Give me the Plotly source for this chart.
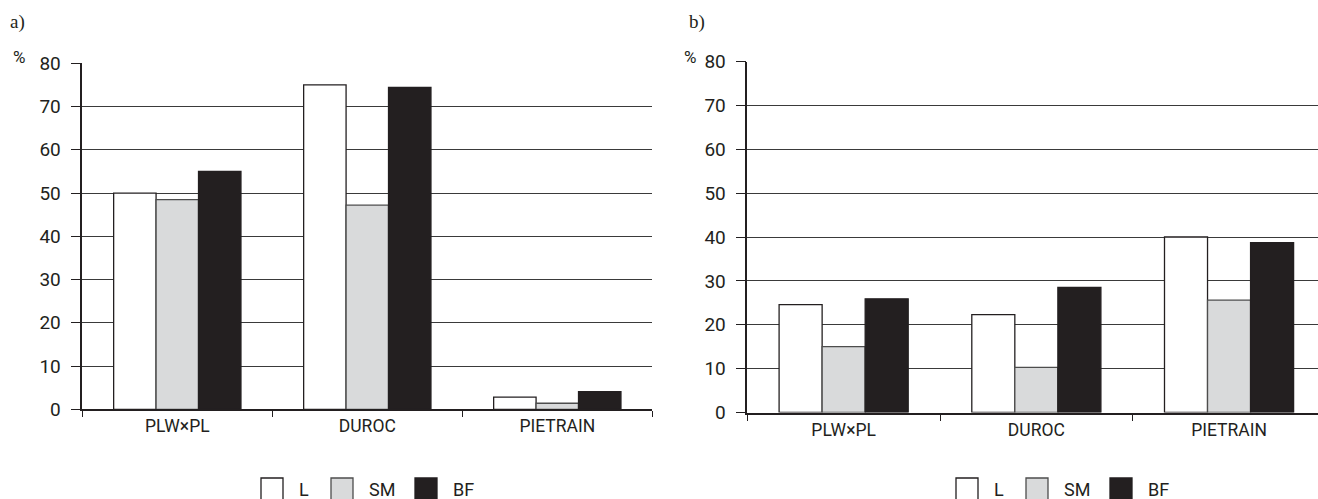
import plotly.graph_objects as go

W, H = 1318, 499

# ---- data -------------------------------------------------------------
breeds = ["PLW×PL", "DUROC", "PIETRAIN"]
series = ["L", "SM", "BF"]

# panel a)
a_L = [50.0, 75.0, 2.8]
a_SM = [48.5, 47.2, 1.4]
a_BF = [55.0, 74.4, 4.1]

# panel b)
b_L = [24.6, 22.3, 40.0]
b_SM = [15.0, 10.3, 25.6]
b_BF = [25.9, 28.5, 38.7]

y_ticks = [0, 10, 20, 30, 40, 50, 60, 70, 80]

# ---- styling ----------------------------------------------------------
INK = "#231f20"
fills = {"L": "#ffffff", "SM": "#d9dadb", "BF": INK}
edges = {"L": INK, "SM": "#4d4d4d", "BF": INK}
SANS = "Roboto, Liberation Sans, sans-serif"
SERIF = "Liberation Serif, Times New Roman, serif"


def fx(px):
    return px / W


def fy(py):
    return 1 - py / H


fig = go.Figure()

panels = [
    ("x", "y", {"L": a_L, "SM": a_SM, "BF": a_BF}),
    ("x2", "y2", {"L": b_L, "SM": b_SM, "BF": b_BF}),
]
for xa, ya, vals in panels:
    for name in series:
        fig.add_trace(go.Bar(
            x=breeds, y=vals[name], name=name, xaxis=xa, yaxis=ya,
            marker=dict(color=fills[name], line=dict(color=edges[name], width=1.3)),
            showlegend=False, hoverinfo="x+y+name",
        ))

common_x = dict(
    type="category", showline=True, linecolor=INK, linewidth=2,
    ticks="outside", tickson="boundaries", ticklen=6, tickwidth=1, tickcolor=INK,
    showgrid=False, zeroline=False, automargin=False, fixedrange=True,
    tickfont=dict(family=SANS, size=17.5, color=INK),
)
common_y = dict(
    range=[0, 80], tickvals=y_ticks, showline=True, linecolor=INK, linewidth=1.5,
    ticks="outside", ticklen=10, tickwidth=1, tickcolor=INK,
    showgrid=True, gridcolor="#3a3a3a", gridwidth=1, zeroline=False,
    automargin=False, fixedrange=True, ticklabelstandoff=6,
    tickfont=dict(family=SANS, size=19, color=INK),
)

# panel b) runs past the right edge of the page, so its last category is cut
b_left, b_step = 747.3, 192.7
b_right_val = -0.5 + (W - b_left) / b_step

fig.update_layout(
    width=W, height=H, template="none",
    margin=dict(l=0, r=0, t=0, b=0),
    paper_bgcolor="white", plot_bgcolor="white",
    barmode="group", bargap=0.33, bargroupgap=0,
    xaxis=dict(common_x, domain=[fx(82.3), fx(652.3)], range=[-0.5, 2.5], anchor="y"),
    yaxis=dict(common_y, domain=[fy(409.3), fy(63.3)], anchor="x"),
    xaxis2=dict(common_x, domain=[fx(b_left), 1.0], range=[-0.5, b_right_val], anchor="y2"),
    yaxis2=dict(common_y, domain=[fy(412.5), fy(61.5)], anchor="x2"),
)

# panel letters and unit labels
for label, x0 in [("a)", 8), ("b)", 687)]:
    fig.add_annotation(text=label, x=fx(x0), y=fy(22), xref="paper", yref="paper",
                       xanchor="left", yanchor="middle", showarrow=False,
                       font=dict(family=SERIF, size=19, color=INK))
for x0 in [19, 690]:
    fig.add_annotation(text="%", x=fx(x0), y=fy(57), xref="paper", yref="paper",
                       xanchor="center", yanchor="middle", showarrow=False,
                       font=dict(family=SANS, size=17, color=INK))

# legends under each panel
swatch_offsets = [0, 70, 154]
for start in [261, 956]:
    for name, off in zip(series, swatch_offsets):
        sx = start + off
        fig.add_shape(type="rect", xref="paper", yref="paper",
                      x0=fx(sx), x1=fx(sx + 22), y0=fy(500), y1=fy(478),
                      fillcolor=fills[name], line=dict(color=edges[name], width=1.3))
        fig.add_annotation(text=name, x=fx(sx + 36), y=fy(489), xref="paper", yref="paper",
                           xanchor="left", yanchor="middle", showarrow=False,
                           font=dict(family=SANS, size=18, color=INK))

fig.write_html("out.html")
